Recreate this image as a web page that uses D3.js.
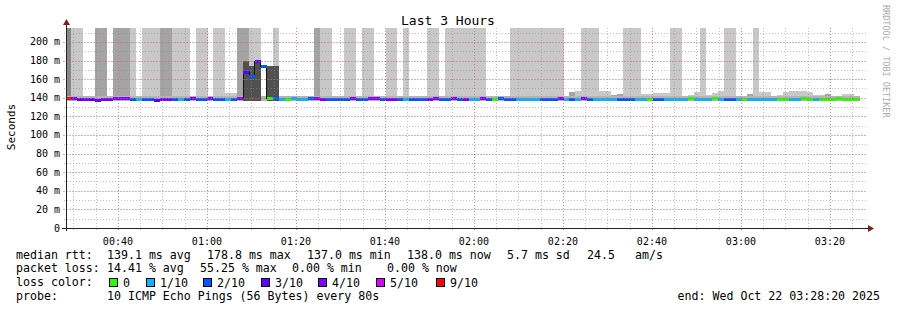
<!DOCTYPE html>
<html>
<head><meta charset="utf-8"/>
<script src="https://d3js.org/d3.v7.min.js"></script>
<style>
  body {margin:0; background:#fff;}
  text {font-family:"DejaVu Sans Mono", monospace; fill:#000;}
</style>
</head>
<body>
<svg width="897" height="310"></svg>
<script>
// median rtt per 80s step (ms)
var median = [
 139.5,138.8,138.5,138.5,138.2,137.5,138.5,138.6,138.8,138.8,
 138.8,138.5,138.0,138.3,138.3,137.5,138.5,138.5,138.0,138.6,
 138.6,138.8,138.0,138.0,138.8,138.0,138.0,138.5,138.3,139.0,
 167.0,163.0,179.0,174.0,139.0,139.0,138.5,138.2,138.8,138.5,
 138.5,138.8,138.8,138.5,138.0,138.3,138.5,138.5,138.8,138.3,
 138.5,138.8,138.8,138.3,138.5,138.5,138.6,138.3,138.5,138.0,
 138.0,138.5,138.8,138.3,138.5,138.8,138.3,138.0,138.3,138.3,
 138.8,138.6,138.5,138.8,138.3,138.3,138.0,138.0,138.0,138.0,
 138.3,138.3,138.5,138.8,138.0,138.3,138.0,138.8,138.3,138.0,
 138.0,138.0,138.0,138.5,138.3,138.3,138.0,138.0,138.5,138.3,
 138.3,138.0,138.0,138.0,138.0,138.8,138.0,138.3,138.3,138.8,
 138.0,138.0,138.5,138.0,138.5,138.0,138.3,138.0,138.0,138.5,
 138.6,138.5,138.2,138.0,138.8,138.5,138.2,138.0,138.5,138.6,
 138.8,138.5,138.5,138.6
];
// lost pings out of 10 per step
var lossCount = [
 9,4,3,4,3,3,4,4,4,4,
 4,2,1,2,2,3,4,4,2,1,
 2,4,2,2,4,2,2,1,2,4,
 3,2,3,2,0,2,1,0,1,1,
 1,2,4,4,2,2,2,2,4,2,
 2,4,4,2,4,4,2,1,2,2,
 2,4,4,2,2,4,2,4,1,1,
 4,2,0,2,2,2,1,1,1,1,
 2,2,2,4,1,2,1,4,2,1,
 1,1,1,2,2,2,1,1,0,2,
 2,1,1,1,1,0,1,1,1,0,
 1,2,2,1,0,1,1,1,1,1,
 0,0,1,1,0,0,1,0,0,0,
 0,0,0,0
];
// top of the smoke per step (ms); 999 = beyond the top of the graph
var smokeTop = [
 999,999,999,142,142,999,999,142,999,999,
 999,999,140,999,999,999,999,999,999,999,
 999,141,999,999,141,999,999,145,145,999,
 999,999,999,140,174,999,141,141,141,141,
 141,141,999,999,999,141,141,999,999,141,
 999,999,141,141,999,999,141,999,141,141,
 141,999,999,141,999,999,999,999,999,999,
 999,141,141,141,141,999,999,999,999,999,
 999,999,999,999,142,146,147,999,999,999,
 147,147,143,144,999,999,999,144,144,145,
 145,145,999,999,142,143,146,999,143,145,
 147,999,999,141,142,144,999,146,146,141,
 143,146,147,147,147,146,143,143,144,141,
 141,144,144,141
];
// shade of the smoke: 0 light, 1 mid, 2 darker, 3 dark
var smokeShade = [
 2,0,0,1,1,1,1,1,1,1,
 1,0,0,0,0,0,1,1,0,0,
 0,1,0,0,1,0,0,0,0,1,
 1,0,0,0,3,0,0,0,0,0,
 0,0,1,0,0,0,0,0,0,0,
 0,0,0,0,0,0,0,0,0,0,
 0,0,0,0,0,0,0,0,0,0,
 0,0,0,0,0,0,0,0,0,0,
 0,0,0,0,0,1,0,0,0,0,
 0,0,1,1,0,0,0,0,0,0,
 0,0,0,0,0,0,0,0,0,0,
 0,0,0,0,0,1,0,0,0,0,
 0,0,0,0,0,0,0,0,1,0,
 0,0,0,0
];
// dense (dark) smoke around the latency spike: step index -> top (ms)
var darkSteps = [30, 31, 32, 34, 35];
var darkTops  = [180, 174, 178, 174, 174];

var shadeColors = ["#c8c8c8", "#a4a4a4", "#888888", "#505050"];
var yTicks = [0, 20, 40, 60, 80, 100, 120, 140, 160, 180, 200];
var yTickLabels = ["0", "20 m", "40 m", "60 m", "80 m", "100 m", "120 m", "140 m", "160 m", "180 m", "200 m"];
var lossKeys = [0, 1, 2, 3, 4, 5, 9];
var lossLabels = ["0", "1/10", "2/10", "3/10", "4/10", "5/10", "9/10"];
var lossColors = ["#26ff00", "#00b8ff", "#0059ff", "#5e00ff", "#7e00ff", "#dd00ff", "#ff0000"];
var statsRtt = ["median rtt:", "139.1 ms avg", "178.8 ms max", "137.0 ms min", "138.0 ms now", "5.7 ms sd", "24.5", "am/s"];
var statsLoss = ["packet loss:", "14.41 % avg", "55.25 % max", "0.00 % min", "0.00 % now"];
var probeText = ["probe:", "10 ICMP Echo Pings (56 Bytes) every 80s"];
var endText = "end: Wed Oct 22 03:28:20 2025";

var stepMs = 80 * 1000;
var firstStep = Date.UTC(2025, 9, 22, 0, 28, 8);
var startTime = new Date(Date.UTC(2025, 9, 22, 0, 28, 20));
var endTime = new Date(Date.UTC(2025, 9, 22, 3, 28, 20));

var pLeft = 66, pRight = 867, pBottom = 228, pTop = 28;
var svg = d3.select("svg");

var x = d3.scaleUtc().domain([startTime, endTime]).range([pLeft, pRight]);
var y = d3.scaleLinear().domain([0, 215]).range([pBottom, pTop]);
var lossColor = d3.scaleThreshold().domain(lossKeys.slice(1)).range(lossColors);

svg.append("defs").append("clipPath").attr("id", "plot")
  .append("rect").attr("x", pLeft).attr("y", pTop).attr("width", pRight - pLeft).attr("height", pBottom - pTop);

function t0(i) { return new Date(firstStep + i * stepMs); }
function t1(i) { return new Date(firstStep + (i + 1) * stepMs); }

var plot = svg.append("g").attr("clip-path", "url(#plot)").attr("shape-rendering", "crispEdges");

// smoke
plot.selectAll("rect.smoke").data(smokeTop).enter().append("rect")
  .attr("class", "smoke")
  .attr("x", function(d, i) { return x(t0(i)); })
  .attr("width", function(d, i) { return x(t1(i)) - x(t0(i)); })
  .attr("y", function(d) { return y(Math.min(d, 215)); })
  .attr("height", function(d) { return y(136) - y(Math.min(d, 215)); })
  .attr("fill", function(d, i) { return shadeColors[smokeShade[i]]; });

// inner band of smoke around the median
plot.selectAll("rect.band").data(median).enter().append("rect")
  .attr("class", "band")
  .attr("x", function(d, i) { return x(t0(i)); })
  .attr("width", function(d, i) { return x(t1(i)) - x(t0(i)); })
  .attr("y", y(141.5))
  .attr("height", y(136) - y(141.5))
  .attr("fill", "#b4b4b4");

plot.selectAll("rect.dark").data(darkSteps).enter().append("rect")
  .attr("class", "dark")
  .attr("x", function(d) { return x(t0(d)); })
  .attr("width", function(d) { return x(t1(d)) - x(t0(d)); })
  .attr("y", function(d, j) { return y(darkTops[j]); })
  .attr("height", function(d, j) { return y(136) - y(darkTops[j]); })
  .attr("fill", shadeColors[3]);

// grid
var grid = svg.append("g").attr("shape-rendering", "crispEdges");
var minorX = d3.utcMinute.every(5).range(startTime, endTime);
var majorX = d3.utcMinute.every(20).range(startTime, endTime);
grid.selectAll("line.mx").data(minorX).enter().append("line")
  .attr("x1", function(d) { return Math.round(x(d)) + 0.5; })
  .attr("x2", function(d) { return Math.round(x(d)) + 0.5; })
  .attr("y1", pTop).attr("y2", pBottom + 2)
  .attr("stroke", "rgba(140,140,140,0.55)").attr("stroke-dasharray", "1,2");
grid.selectAll("line.my").data(d3.range(10, 215, 10)).enter().append("line")
  .attr("y1", function(d) { return Math.round(y(d)) + 0.5; })
  .attr("y2", function(d) { return Math.round(y(d)) + 0.5; })
  .attr("x1", pLeft - 2).attr("x2", pRight)
  .attr("stroke", "rgba(140,140,140,0.55)").attr("stroke-dasharray", "1,2");
grid.selectAll("line.Mx").data(majorX).enter().append("line")
  .attr("x1", function(d) { return Math.round(x(d)) + 0.5; })
  .attr("x2", function(d) { return Math.round(x(d)) + 0.5; })
  .attr("y1", pTop).attr("y2", pBottom + 3)
  .attr("stroke", "rgba(255,80,80,0.55)").attr("stroke-dasharray", "1,2");
grid.selectAll("line.My").data(yTicks.slice(1)).enter().append("line")
  .attr("y1", function(d) { return Math.round(y(d)) + 0.5; })
  .attr("y2", function(d) { return Math.round(y(d)) + 0.5; })
  .attr("x1", pLeft - 3).attr("x2", pRight)
  .attr("stroke", "rgba(255,80,80,0.55)").attr("stroke-dasharray", "1,2");

// median: thin step line then loss-coloured segments
var medLine = d3.line()
  .x(function(d) { return x(d.t); })
  .y(function(d) { return y(d.v); })
  .curve(d3.curveStepAfter);
var medPts = median.map(function(v, i) { return {t: t0(i), v: v}; });
medPts.push({t: t1(median.length - 1), v: median[median.length - 1]});
plot.append("path").attr("d", medLine(medPts))
  .attr("fill", "none").attr("stroke", "#111").attr("stroke-width", 1);
plot.selectAll("line.med").data(median).enter().append("line")
  .attr("x1", function(d, i) { return x(t0(i)); })
  .attr("x2", function(d, i) { return x(t1(i)); })
  .attr("y1", function(d) { return y(d); })
  .attr("y2", function(d) { return y(d); })
  .attr("stroke", function(d, i) { return lossColor(lossCount[i]); })
  .attr("stroke-width", 3);

// axes
var axes = svg.append("g").attr("shape-rendering", "crispEdges");
axes.append("line").attr("x1", pLeft - 4).attr("x2", pRight + 2)
  .attr("y1", pBottom + 0.5).attr("y2", pBottom + 0.5).attr("stroke", "#222");
axes.append("line").attr("x1", pLeft + 0.5).attr("x2", pLeft + 0.5)
  .attr("y1", pBottom + 3).attr("y2", pTop - 4).attr("stroke", "#222");
svg.append("path").attr("d", "M" + (pLeft - 3) + "," + (pTop - 3) + "L" + (pLeft + 4) + "," + (pTop - 3) + "L" + (pLeft + 0.5) + "," + (pTop - 9) + "Z")
  .attr("fill", "#7f2020");
svg.append("path").attr("d", "M" + (pRight + 1) + "," + (pBottom - 3) + "L" + (pRight + 1) + "," + (pBottom + 4) + "L" + (pRight + 7) + "," + (pBottom + 0.5) + "Z")
  .attr("fill", "#7f2020");

svg.selectAll("text.yl").data(yTicks).enter().append("text")
  .attr("x", 60).attr("y", function(d) { return y(d); }).attr("dy", "0.35em")
  .attr("text-anchor", "end").style("font-size", "10px")
  .text(function(d, i) { return yTickLabels[i]; });
var fmt = d3.utcFormat("%H:%M");
svg.selectAll("text.xl").data(majorX).enter().append("text")
  .attr("x", function(d) { return x(d); }).attr("y", 241).attr("dy", "0.35em")
  .attr("text-anchor", "middle").style("font-size", "10px")
  .text(function(d) { return fmt(d); });

svg.append("text").attr("transform", "translate(11,127) rotate(-90)")
  .attr("text-anchor", "middle").attr("dy", "0.35em").style("font-size", "11px").text("Seconds");
svg.append("text").attr("x", 448).attr("y", 20).attr("dy", "0.35em")
  .attr("text-anchor", "middle").style("font-size", "13px").text("Last 3 Hours");
svg.append("text").attr("transform", "translate(886,5) rotate(90)")
  .attr("dy", "0.35em").style("font-size", "8.5px").style("fill", "#aaa").text("RRDTOOL / TOBI OETIKER");

// legend
var fs = "11.6px";
var rttX = [16, 107, 207, 307, 407, 507, 587, 635];
svg.selectAll("text.r1").data(statsRtt).enter().append("text")
  .attr("x", function(d, i) { return rttX[i]; }).attr("y", 255).attr("dy", "0.35em")
  .style("font-size", fs).text(function(d) { return d; });
var lossX = [16, 107, 200, 292, 387];
svg.selectAll("text.r2").data(statsLoss).enter().append("text")
  .attr("x", function(d, i) { return lossX[i]; }).attr("y", 268).attr("dy", "0.35em")
  .style("font-size", fs).text(function(d) { return d; });
svg.append("text").attr("x", 16).attr("y", 282).attr("dy", "0.35em").style("font-size", fs).text("loss color:");
var boxX = [109, 146, 203, 261, 318, 376, 436];
var lg = svg.selectAll("g.lc").data(lossLabels).enter().append("g")
  .attr("transform", function(d, i) { return "translate(" + boxX[i] + ",278)"; });
lg.append("rect").attr("x", 0.5).attr("y", 0.5).attr("width", 8).attr("height", 8)
  .attr("fill", function(d, i) { return lossColors[i]; }).attr("stroke", "#000")
  .attr("shape-rendering", "crispEdges");
lg.append("text").attr("x", 14).attr("y", 4.5).attr("dy", "0.35em").style("font-size", fs)
  .text(function(d) { return d; });
svg.selectAll("text.r4").data(probeText).enter().append("text")
  .attr("x", function(d, i) { return i ? 107 : 16; }).attr("y", 296).attr("dy", "0.35em")
  .style("font-size", fs).text(function(d) { return d; });
svg.append("text").attr("x", 880).attr("y", 296).attr("dy", "0.35em")
  .attr("text-anchor", "end").style("font-size", fs).text(endText);
</script>
</body>
</html>
